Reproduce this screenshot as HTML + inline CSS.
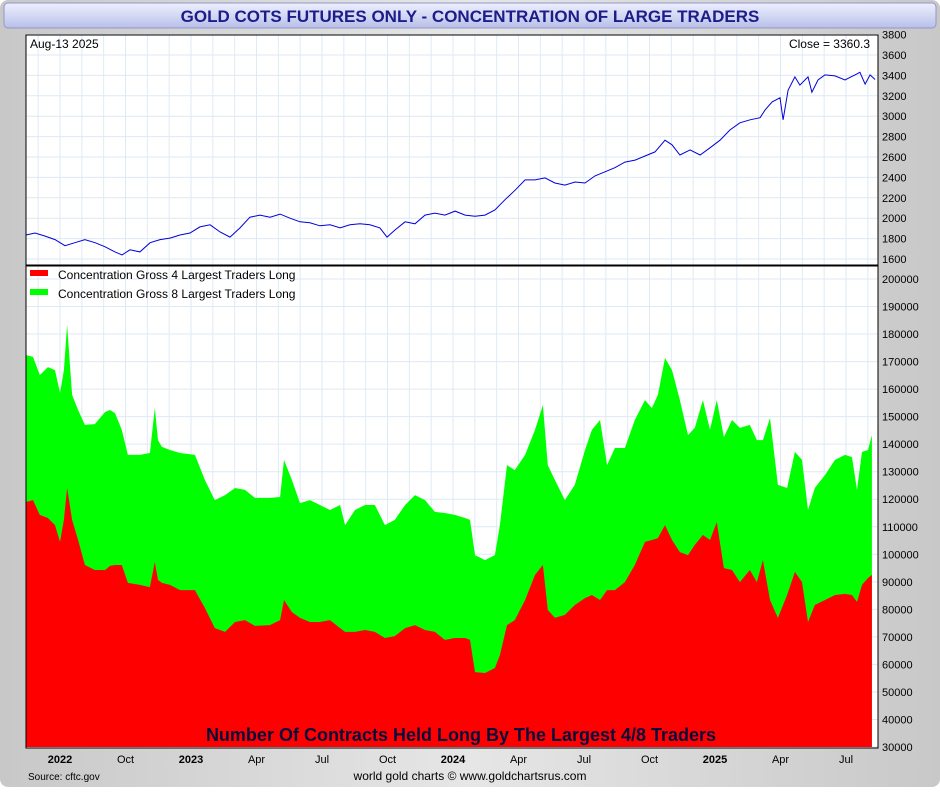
<!DOCTYPE html>
<html><head><meta charset="utf-8">
<style>
html,body{margin:0;padding:0;}
body{width:940px;height:787px;background:#fff;font-family:"Liberation Sans",sans-serif;overflow:hidden;}
svg text{font-family:"Liberation Sans",sans-serif;}
</style></head>
<body>
<svg id="chart" width="940" height="787" viewBox="0 0 940 787">
<defs>
<linearGradient id="frameG" x1="0" x2="1" y1="0" y2="0">
<stop offset="0" stop-color="#c8c8c8"/><stop offset="0.5" stop-color="#e6e6e6"/><stop offset="1" stop-color="#c8c8c8"/></linearGradient>
<linearGradient id="titleG" x1="0" x2="0" y1="0" y2="1">
<stop offset="0" stop-color="#eef0ff"/><stop offset="1" stop-color="#b8bfe8"/></linearGradient>
</defs>
<rect x="0" y="0" width="940" height="787" rx="8" fill="url(#frameG)"/>
<rect x="4" y="3" width="932" height="25" rx="4" fill="url(#titleG)" stroke="#9098c8"/>
<text x="470" y="22" text-anchor="middle" font-size="17" font-weight="bold" fill="#1c1c8a">GOLD COTS FUTURES ONLY - CONCENTRATION OF LARGE TRADERS</text>
<rect x="26" y="35" width="852" height="713" fill="#fff"/>
<g id="grid"></g>
<g id="areas"></g>
<g id="price"></g>
<rect x="26" y="35" width="852" height="713" fill="none" stroke="#000" stroke-width="1"/>
<line x1="26" x2="878" y1="265.5" y2="265.5" stroke="#000" stroke-width="2"/>
<g id="axes"></g>
<text x="30" y="48" font-size="12" fill="#000">Aug-13  2025</text>
<text x="870" y="48" font-size="12" text-anchor="end" fill="#000">Close = 3360.3</text>
<rect x="30" y="270" width="18" height="6" fill="#ff0000"/>
<text x="58" y="279" font-size="12" fill="#000">Concentration Gross 4 Largest Traders Long</text>
<rect x="30" y="289" width="18" height="6" fill="#00ff00"/>
<text x="58" y="298" font-size="12" fill="#000">Concentration Gross 8 Largest Traders Long</text>
<text x="461" y="741" text-anchor="middle" font-size="18" font-weight="bold" fill="#0a0a3a">Number Of Contracts Held Long By The Largest 4/8 Traders</text>
<text x="28" y="780" font-size="10" fill="#000">Source: cftc.gov</text>
<text x="470" y="780" text-anchor="middle" font-size="12" fill="#000">world gold charts © www.goldchartsrus.com</text>
</svg>
<script>
const cotDates=[2022.370,2022.397,2022.423,2022.454,2022.481,2022.500,2022.515,2022.527,2022.546,2022.569,2022.595,2022.633,2022.672,2022.691,2022.710,2022.736,2022.759,2022.805,2022.843,2022.862,2022.874,2022.889,2022.920,2022.958,2023.015,2023.053,2023.091,2023.130,2023.168,2023.206,2023.244,2023.301,2023.340,2023.355,2023.385,2023.416,2023.454,2023.492,2023.530,2023.569,2023.588,2023.626,2023.664,2023.702,2023.740,2023.778,2023.817,2023.855,2023.893,2023.931,2023.969,2024.007,2024.046,2024.065,2024.084,2024.122,2024.160,2024.179,2024.206,2024.236,2024.275,2024.313,2024.343,2024.362,2024.389,2024.427,2024.465,2024.504,2024.530,2024.561,2024.588,2024.618,2024.656,2024.694,2024.733,2024.759,2024.782,2024.809,2024.836,2024.866,2024.897,2024.923,2024.954,2024.981,2025.007,2025.034,2025.065,2025.095,2025.133,2025.160,2025.183,2025.210,2025.240,2025.275,2025.305,2025.332,2025.355,2025.381,2025.420,2025.458,2025.496,2025.523,2025.542,2025.561,2025.584,2025.599];
const top8Long=[172.4,171.7,165.1,168.0,166.9,158.6,166.9,183.3,157.9,152.4,147.0,147.3,151.7,152.4,151.3,145.2,136.1,136.1,136.8,153.1,141.5,139.0,137.9,136.8,136.1,127.0,119.7,121.5,124.1,123.4,120.5,120.5,120.8,134.3,127.0,118.6,119.7,117.9,116.1,117.9,110.6,116.1,117.9,117.9,110.6,112.5,117.9,121.5,119.7,115.4,115.0,114.3,113.2,112.5,99.7,97.9,99.7,110.6,132.4,130.6,136.1,145.2,154.2,132.4,127.0,119.7,125.2,137.9,145.2,148.8,132.4,138.6,138.6,148.8,156.0,153.1,157.9,171.3,166.9,156.0,143.3,145.9,156.0,145.2,156.0,142.6,148.8,145.9,147.0,141.5,141.5,149.5,125.2,124.1,137.2,134.3,116.1,124.1,128.8,134.3,136.1,135.3,123.4,137.2,137.9,143.3];
const top4Long=[119.0,119.7,114.3,113.2,110.6,104.5,112.5,124.1,112.5,105.2,96.1,94.3,94.3,95.8,96.1,96.1,89.6,88.9,88.1,97.2,90.7,89.6,88.9,87.0,87.0,80.5,73.2,71.8,75.4,76.1,74.0,74.3,76.1,83.4,79.0,76.9,75.4,75.4,76.1,73.2,71.8,71.8,72.5,71.8,69.6,70.3,73.2,74.3,72.5,71.8,68.9,69.6,69.6,68.9,57.2,56.9,58.7,63.4,74.3,76.1,83.4,92.5,96.1,79.8,76.9,78.0,81.6,84.1,85.2,83.4,87.0,87.0,89.9,96.1,104.5,105.2,105.9,110.6,105.2,100.8,99.7,103.4,107.0,105.2,111.7,95.0,94.3,89.9,94.3,89.9,97.9,83.4,76.9,85.2,93.6,89.9,75.4,81.6,83.4,85.2,85.6,85.2,82.7,88.9,91.4,92.5];
const priceDates=[2022.370,2022.405,2022.443,2022.481,2022.519,2022.557,2022.595,2022.634,2022.672,2022.710,2022.737,2022.767,2022.805,2022.844,2022.882,2022.920,2022.958,2022.996,2023.034,2023.073,2023.111,2023.149,2023.187,2023.225,2023.263,2023.302,2023.340,2023.378,2023.416,2023.454,2023.492,2023.531,2023.569,2023.607,2023.645,2023.683,2023.721,2023.748,2023.779,2023.817,2023.855,2023.893,2023.931,2023.969,2024.008,2024.046,2024.084,2024.122,2024.160,2024.198,2024.237,2024.275,2024.313,2024.351,2024.389,2024.427,2024.466,2024.504,2024.542,2024.580,2024.618,2024.656,2024.695,2024.733,2024.771,2024.809,2024.836,2024.866,2024.905,2024.943,2024.981,2025.019,2025.057,2025.095,2025.134,2025.172,2025.191,2025.218,2025.248,2025.260,2025.279,2025.305,2025.324,2025.355,2025.370,2025.393,2025.420,2025.458,2025.496,2025.534,2025.553,2025.573,2025.592,2025.611];
const goldPrice=[1835,1855,1825,1790,1730,1760,1790,1760,1720,1670,1640,1690,1670,1760,1790,1805,1835,1855,1915,1935,1865,1815,1905,2010,2030,2010,2040,2000,1965,1955,1925,1935,1905,1935,1945,1935,1905,1815,1885,1965,1945,2030,2050,2030,2070,2030,2020,2030,2080,2180,2275,2375,2375,2395,2345,2325,2355,2345,2415,2455,2495,2550,2570,2610,2650,2765,2720,2620,2670,2620,2690,2765,2865,2935,2965,2985,3060,3140,3180,2965,3255,3385,3305,3385,3235,3355,3405,3395,3355,3405,3430,3315,3405,3360];
const priceTicks=[1600,1800,2000,2200,2400,2600,2800,3000,3200,3400,3600,3800];
const cotTicks=[30000,40000,50000,60000,70000,80000,90000,100000,110000,120000,130000,140000,150000,160000,170000,180000,190000,200000];
const xTickLabels=["2022","Oct","2023","Apr","Jul","Oct","2024","Apr","Jul","Oct","2025","Apr","Jul"];
const xTickDates=[2022.5,2022.75,2023,2023.25,2023.5,2023.75,2024,2024.25,2024.5,2024.75,2025,2025.25,2025.5];

const NS="http://www.w3.org/2000/svg";
const xs=d=>191+(d-2023)*262;
const yp=v=>259-(v-1600)/200*20.4;
const yc=v=>279+(200-v)*2.753;
const yck=v=>yc(v/1000);
function mk(tag,attrs,parent){const e=document.createElementNS(NS,tag);for(const k in attrs)e.setAttribute(k,attrs[k]);parent.appendChild(e);return e;}
const grid=document.getElementById('grid'),axes=document.getElementById('axes'),areas=document.getElementById('areas'),pr=document.getElementById('price');
// monthly vertical grid
for(let m=0;m<40;m++){const d=2022+5/12+m/12;const x=xs(d);if(x<27||x>877)continue;
 const l=mk('line',{x1:x,x2:x,y1:35,y2:748,stroke:'#dfeaf4','stroke-width':1},grid);
 
 }
priceTicks.forEach(v=>{const y=yp(v);
 const l=mk('line',{x1:26,x2:878,y1:y,y2:y,stroke:'#dfeaf4'},grid);
 
 
 const t=mk('text',{x:882,y:y+4,'font-size':11,fill:'#000'},axes);t.textContent=v;
 
 });
cotTicks.forEach(v=>{const y=yck(v);
 const l=mk('line',{x1:26,x2:878,y1:y,y2:y,stroke:'#dfeaf4'},grid);
 
 
 const t=mk('text',{x:882,y:y+4,'font-size':11,fill:'#000'},axes);t.textContent=v;
 
 });
xTickLabels.forEach((s,i)=>{const x=xs(xTickDates[i]);
 const t=mk('text',{x:x,y:763,'font-size':11,'font-weight':(s.length===4?'bold':'normal'),'text-anchor':'middle',fill:'#000'},axes);t.textContent=s;
 
 });
function areaPath(vals){let d='M'+xs(cotDates[0])+','+747;
 vals.forEach((v,i)=>{d+=' L'+xs(cotDates[i]).toFixed(1)+','+yc(v).toFixed(1);});
 d+=' L'+xs(cotDates[cotDates.length-1]).toFixed(1)+',747 Z';return d;}
const g8=mk('path',{d:areaPath(top8Long),fill:'#00ff00'},areas);


const g4=mk('path',{d:areaPath(top4Long),fill:'#ff0000'},areas);


let pd='';goldPrice.forEach((v,i)=>{pd+=(i?' L':'M')+xs(priceDates[i]).toFixed(1)+','+yp(v).toFixed(1);});
const pl=mk('path',{d:pd,fill:'none',stroke:'#0000dd','stroke-width':1},pr);


</script>
</body></html>
